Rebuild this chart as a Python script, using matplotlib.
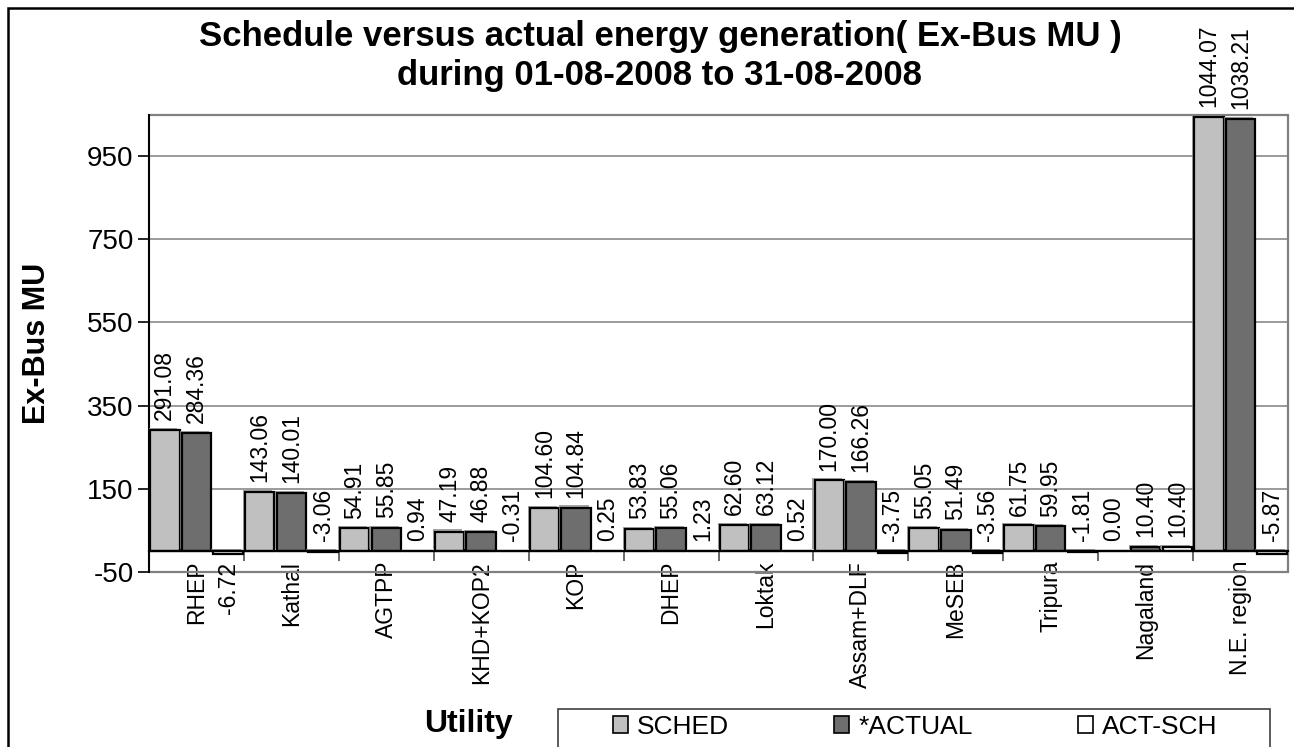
import matplotlib
matplotlib.use("Agg")
import matplotlib.pyplot as plt
import matplotlib.patheffects as pe
from matplotlib.patches import Patch, Rectangle
import numpy as np

plt.rcParams["font.family"] = ["Liberation Sans", "DejaVu Sans"]
plt.rcParams["axes.unicode_minus"] = False

# Schedule vs actual energy generation, Ex-Bus MU, August 2008
utilities = ["RHEP", "Kathal", "AGTPP", "KHD+KOP2", "KOP", "DHEP", "Loktak",
             "Assam+DLF", "MeSEB", "Tripura", "Nagaland", "N.E. region"]
sched = [291.08, 143.06, 54.91, 47.19, 104.60, 53.83, 62.60, 170.00,
         55.05, 61.75, 0.00, 1044.07]
actual = [284.36, 140.01, 55.85, 46.88, 104.84, 55.06, 63.12, 166.26,
          51.49, 59.95, 10.40, 1038.21]
act_sch = [-6.72, -3.06, 0.94, -0.31, 0.25, 1.23, 0.52, -3.75,
           -3.56, -1.81, 10.40, -5.87]
series_names = ["SCHED", "*ACTUAL", "ACT-SCH"]
yticks = [-50, 150, 350, 550, 750, 950]

W, H = 1294, 747
fig = plt.figure(figsize=(W / 100, H / 100), dpi=100)
ax = fig.add_axes([149 / W, 1 - 572 / H, (1288 - 149) / W, (572 - 115) / H])

x = np.arange(len(utilities))
width = 0.31
colors = ["#c0c0c0", "#6e6e6e", "#ffffff"]
shadow = [pe.SimplePatchShadow(offset=(-1.5, 1.5), shadow_rgbFace="#909090", alpha=0.8), pe.Normal()]

for k, (vals, col) in enumerate(zip([sched, actual, act_sch], colors)):
    pos = x + (k - 1) / 3
    bars = ax.bar(pos, vals, width, color=col, edgecolor="black", linewidth=1.6, zorder=3)
    for b in bars:
        b.set_path_effects(shadow)
    for p, v in zip(pos, vals):
        txt = f"{v:.2f}"
        if v == -6.72:
            # this one sits under its bar in the original
            ax.annotate(txt, (p, v), xytext=(0, -6), textcoords="offset points",
                        rotation=90, ha="center", va="top", fontsize=16.5)
        elif v < 0:
            ax.annotate(txt, (p, 0), xytext=(0, 7), textcoords="offset points",
                        rotation=90, ha="center", va="bottom", fontsize=16.5)
        else:
            ax.annotate(txt, (p, v), xytext=(0, 7), textcoords="offset points",
                        rotation=90, ha="center", va="bottom", fontsize=16.5)

ax.set_xlim(-0.5, len(utilities) - 0.5)
ax.set_ylim(-50, 1048)
ax.set_yticks(yticks)
ax.tick_params(axis="y", labelsize=20, length=8, width=1.2, direction="out", pad=3)
ax.yaxis.grid(True, color="#808080", linewidth=1.1, zorder=0)
ax.set_axisbelow(True)

# category axis crosses at zero
ax.spines["bottom"].set_position(("data", 0))
ax.spines["bottom"].set_linewidth(1.6)
ax.spines["bottom"].set_zorder(4)
ax.set_xticks(x)
ax.set_xticklabels(utilities, rotation=90, fontsize=16.5, va="top", ha="center")
ax.tick_params(axis="x", which="major", length=0, pad=7)
ax.set_xticks(np.arange(len(utilities) + 1) - 0.5, minor=True)
ax.tick_params(axis="x", which="minor", length=7, width=1.1, color="#404040", direction="out")

ax.spines["left"].set_linewidth(1.4)
for s in ["top", "right"]:
    ax.spines[s].set_visible(False)
ax.add_patch(Rectangle((0, 0), 1, 1, transform=ax.transAxes, fill=False,
                       edgecolor="#808080", linewidth=1.6, zorder=1, clip_on=False))

fig.text(660 / W, 1 - 56 / H,
         "Schedule versus actual energy generation( Ex-Bus MU )\nduring 01-08-2008 to 31-08-2008",
         ha="center", va="center", fontsize=25, fontweight="bold", linespacing=1.2)
fig.text(37 / W, 1 - 343 / H, "Ex-Bus MU", rotation=90, ha="center", va="center",
         fontsize=22, fontweight="bold")
fig.text(468 / W, 1 - 724 / H, "Utility", ha="center", va="center",
         fontsize=23, fontweight="bold")

# legend box runs off the bottom of the image
fig.patches.append(Rectangle((558 / W, -0.1), (1270 - 558) / W, 0.1 + 1 - 709 / H,
                             transform=fig.transFigure, fill=False,
                             edgecolor="#404040", linewidth=1.2))
handles = [Patch(facecolor=c, edgecolor="black", linewidth=1.2) for c in colors]
fig.legend(handles, series_names, loc="center left", ncol=3,
           bbox_to_anchor=(613 / W, 1 - 727 / H), borderaxespad=0, borderpad=0,
           fontsize=19, frameon=False, handlelength=0.55, handleheight=0.6,
           handletextpad=0.35, columnspacing=4.0)

fig.patches.append(Rectangle((8 / W, -0.1), 1.2, 1 - 8 / H + 0.1, transform=fig.transFigure,
                             fill=False, edgecolor="black", linewidth=1.8))

fig.savefig("out.png", dpi=100)
